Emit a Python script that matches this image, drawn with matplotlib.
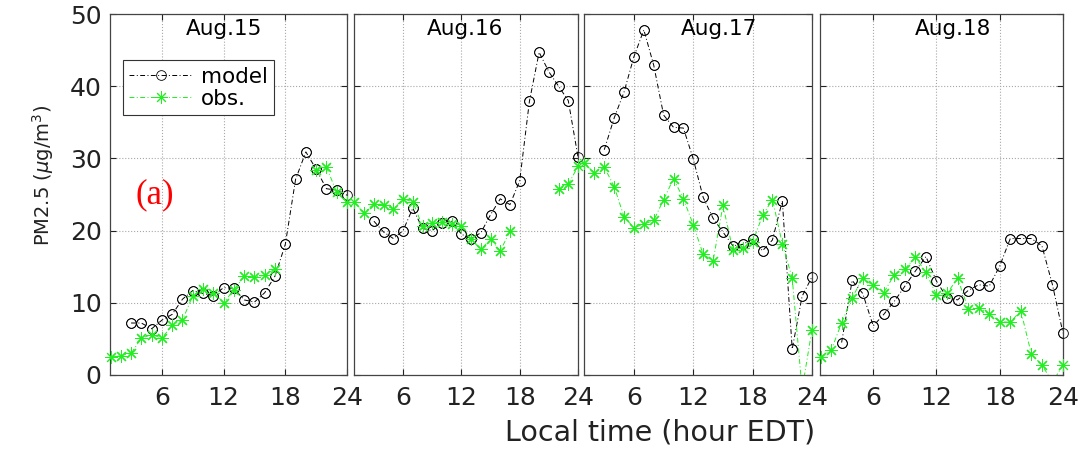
import numpy as np
import matplotlib as mpl
mpl.use('Agg')
import matplotlib.pyplot as plt
from matplotlib.lines import Line2D

nan = np.nan
hours = np.arange(1, 25)
days = ['Aug.15', 'Aug.16', 'Aug.17', 'Aug.18']

model_15 = [nan, nan, 7.2, 7.2, 6.4, 7.6, 8.4, 10.5, 11.7, 11.3, 11.0, 12.1,
            12.0, 10.4, 10.1, 11.4, 13.7, 18.1, 27.1, 30.9, 28.5, 25.8, 25.6, 24.9]
obs_15 = [2.5, 2.7, 3.0, 5.1, 5.6, 5.1, 6.9, 7.6, 11.0, 11.9, 11.4, 10.0,
          11.8, 13.7, 13.6, 13.8, 14.7, nan, nan, nan, 28.4, 28.8, 25.3, 23.9]
model_16 = [nan, nan, 21.3, 19.8, 18.9, 20.0, 23.1, 20.3, 20.0, 21.1, 21.3, 19.5,
            18.9, 19.7, 22.2, 24.4, 23.6, 26.9, 37.9, 44.7, 42.0, 40.0, 38.0, 30.2]
obs_16 = [23.9, 22.5, 23.7, 23.6, 23.0, 24.4, 24.0, 20.6, 21.0, 21.2, 20.9, 20.6,
          18.8, 17.4, 18.8, 17.2, 19.9, nan, nan, nan, nan, 25.7, 26.4, 28.9]
model_17 = [nan, nan, 31.2, 35.6, 39.2, 44.1, 47.8, 42.9, 36.0, 34.3, 34.2, 29.9,
            24.6, 21.7, 19.8, 17.9, 18.1, 18.8, 17.2, 18.7, 24.1, 3.6, 10.9, 13.6]
obs_17 = [29.4, 28.0, 28.8, 26.1, 21.9, 20.4, 20.9, 21.4, 24.3, 27.2, 24.4, 20.8,
          16.7, 15.8, 23.5, 17.3, 17.6, 18.4, 22.1, 24.3, 18.2, 13.4, -2.0, 6.3]
model_18 = [nan, nan, 4.5, 13.1, 11.3, 6.8, 8.4, 10.2, 12.3, 14.4, 16.4, 13.0,
            10.7, 10.4, 11.7, 12.5, 12.3, 15.1, 18.9, 18.9, 18.9, 17.9, 12.5, 5.8]
obs_18 = [2.5, 3.4, 7.2, 10.7, 13.4, 12.4, 11.4, 13.9, 14.7, 16.3, 14.2, 11.1,
          11.3, 13.4, 9.2, 9.3, 8.5, 7.4, 7.3, 8.9, 2.9, 1.4, -1.0, 1.4]

models = [model_15, model_16, model_17, model_18]
obss = [obs_15, obs_16, obs_17, obs_18]

W, H = 1083, 450
fig = plt.figure(figsize=(W / 100, H / 100), dpi=100)

# panel edges in pixels (left, right)
edges = [(110, 347), (354, 578), (584, 812), (820, 1063)]
top, bottom = 14, 375
title_x = [12.0, 12.4, 14.6, 13.6]

dash = (0, (5, 2.5, 1, 2.5))
grn = '#22ee22'
model_style = dict(color='black', lw=0.7, ls=dash, marker='o', ms=7,
                   mfc='none', mec='black', mew=0.6)
obs_style = dict(color=grn, lw=0.7, ls=dash, marker=(8, 2, 0), ms=9,
                 mec=grn, mew=0.7)

for i, (l, r) in enumerate(edges):
    ax = fig.add_axes([l / W, (H - bottom) / H, (r - l) / W, (bottom - top) / H])
    m = np.array(models[i])
    o = np.array(obss[i])
    ax.plot(hours, m, **model_style)
    ax.plot(hours, o, **obs_style)
    # markers on the frame are drawn whole
    for vals, st in ((m, model_style), (o, obs_style)):
        ok = (vals >= 0) & (vals <= 50)
        s = dict(st)
        s['ls'] = 'none'
        ax.plot(hours[ok], vals[ok], clip_on=False, zorder=3, **s)

    ax.set_xlim(0.95, 24)
    ax.set_ylim(0, 50)
    ax.set_xticks([6, 12, 18, 24])
    ax.set_yticks(np.arange(0, 51, 10))
    ax.grid(True, ls=':', color='#a8a8a8', lw=0.8)
    ax.tick_params(direction='in', length=4, width=0.8, top=True, right=True,
                   labelsize=18, colors='#222222', pad=8)
    if i > 0:
        ax.tick_params(labelleft=False)
    else:
        ax.tick_params(axis='y', pad=6)
    for sp in ax.spines.values():
        sp.set_color('#444444')
        sp.set_linewidth(0.9)
    ax.text(title_x[i], 47.9, days[i], ha='center', va='center', fontsize=15.5)

    if i == 0:
        ax.text(5.3, 25, '(a)', color='red', fontsize=25,
                family='Liberation Serif', ha='center', va='center')
        handles = [Line2D([], [], **model_style), Line2D([], [], **obs_style)]
        leg = ax.legend(handles, ['model', 'obs.'], loc='upper left',
                        bbox_to_anchor=(0.055, 0.872), fontsize=15.5,
                        fancybox=False, framealpha=1, edgecolor='#333333',
                        handlelength=2.9, handletextpad=0.4, labelspacing=0.1,
                        borderpad=0.3, borderaxespad=0)
        leg.get_frame().set_linewidth(0.8)

fig.text(660 / W, 1 - 432 / H, 'Local time (hour EDT)', ha='center',
         va='center', fontsize=20.5, color='#222222')
fig.text(43 / W, 1 - 175 / H, r'PM2.5 ($\mu$g/m$^3$)', ha='center',
         va='center', rotation=90, fontsize=14, color='#222222')

fig.savefig('out.png', dpi=100)
